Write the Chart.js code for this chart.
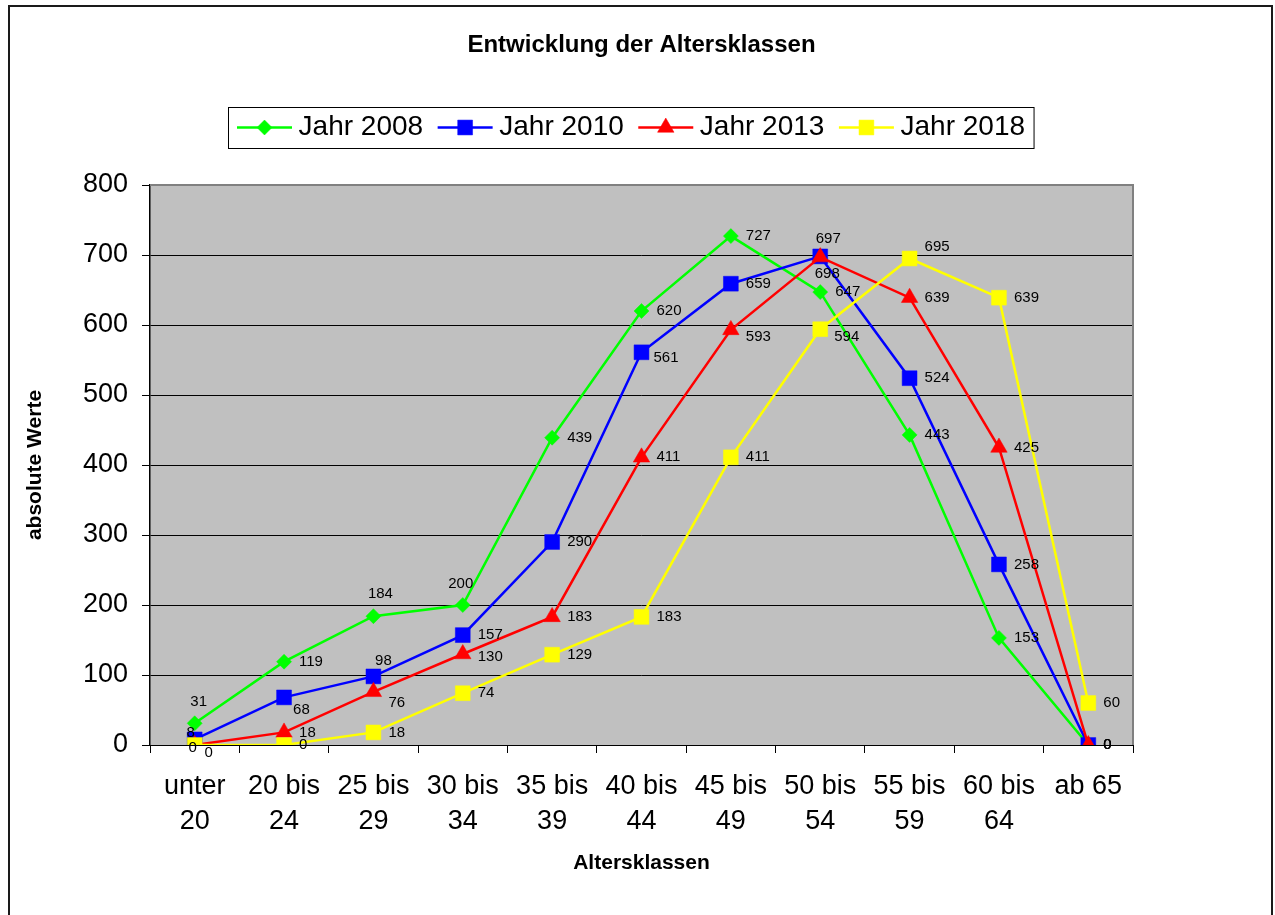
<!DOCTYPE html>
<html>
<head>
<meta charset="utf-8">
<script src="https://cdn.jsdelivr.net/npm/chart.js@4.4.1/dist/chart.umd.min.js"></script>
<style>
html,body{margin:0;padding:0;background:#fff;}
#wrap{width:1275px;height:915px;position:relative;}
</style>
</head>
<body>
<div id="wrap"><canvas id="c" width="1275" height="915"></canvas></div>
<script>
// ---- data ----
const categories = [["unter","20"],["20 bis","24"],["25 bis","29"],["30 bis","34"],["35 bis","39"],["40 bis","44"],["45 bis","49"],["50 bis","54"],["55 bis","59"],["60 bis","64"],"ab 65"];
const seriesNames = ["Jahr 2008","Jahr 2010","Jahr 2013","Jahr 2018"];
const jahr2008 = [31,119,184,200,439,620,727,647,443,153,0];
const jahr2010 = [8,68,98,157,290,561,659,698,524,258,0];
const jahr2013 = [0,18,76,130,183,411,593,697,639,425,0];
const jahr2018 = [0,0,18,74,129,183,411,594,695,639,60];
const yTicks = [0,100,200,300,400,500,600,700,800];
const chartTitle = "Entwicklung der Altersklassen";
const xTitle = "Altersklassen";
const yTitle = "absolute Werte";

// ---- styles ----
const FONT = "'Liberation Sans', Arial, sans-serif";
const seriesStyles = [
  {color:'#00FF00', point:'rectRot', radius:7.5},
  {color:'#0000FF', point:'rect', radius:10.5},
  {color:'#FF0000', point:'triangle', radius:9.5},
  {color:'#FFFF00', point:'rect', radius:10.5}
];
// label placement: default = right of point; ['c',dx,dy] centered offset, ['r',dx,dy] right with shift
const labelPlacement = [
  {0:['c',4,-21], 2:['c',7,-22], 3:['c',-2,-21]},
  {0:['c',-4,-7], 1:['r',-6,12], 2:['c',10,-16], 5:['r',-3,6], 7:['c',7,17]},
  {0:['c',14,8], 2:['r',0,11], 3:['r',0,3], 6:['r',0,7], 7:['c',8,-18]},
  {0:['c',-2,3], 7:['r',-1,8], 8:['r',0,-12]}
];

const allSeries = [jahr2008, jahr2010, jahr2013, jahr2018];
const datasets = allSeries.map((d,i)=>({
  label: seriesNames[i],
  data: d,
  borderColor: seriesStyles[i].color,
  backgroundColor: seriesStyles[i].color,
  pointBackgroundColor: seriesStyles[i].color,
  pointBorderColor: seriesStyles[i].color,
  pointBorderWidth: 0.5,
  pointStyle: seriesStyles[i].point,
  pointRadius: seriesStyles[i].radius,
  borderWidth: 2.5,
  tension: 0,
  order: allSeries.length - i
}));

Chart.defaults.color = '#000';
Chart.defaults.font.family = FONT;

const bgPlugin = {
  id:'bg',
  beforeDraw(chart){
    const {ctx, chartArea:a} = chart;
    ctx.save();
    ctx.fillStyle='#fff';
    ctx.fillRect(0,0,chart.width,chart.height);
    ctx.fillStyle='#C0C0C0';
    ctx.fillRect(a.left,a.top,a.right-a.left,a.bottom-a.top);
    ctx.restore();
  },
  beforeDatasetsDraw(chart){
    const {ctx, chartArea:a} = chart;
    ctx.save();
    ctx.strokeStyle='#808080';
    ctx.lineWidth=2;
    ctx.beginPath();
    ctx.moveTo(a.left, a.top);
    ctx.lineTo(a.right, a.top);
    ctx.lineTo(a.right, a.bottom);
    ctx.stroke();
    ctx.restore();
  }
};

const labelPlugin = {
  id:'labels',
  afterDatasetsDraw(chart){
    const ctx = chart.ctx;
    ctx.save();
    ctx.font = '15px ' + FONT;
    ctx.fillStyle = '#000';
    ctx.textBaseline = 'middle';
    chart.data.datasets.forEach((ds, di)=>{
      const meta = chart.getDatasetMeta(di);
      meta.data.forEach((pt, j)=>{
        const txt = String(ds.data[j]);
        const p = labelPlacement[di][j] || ['r',0,0];
        if (p[0]==='c'){
          ctx.textAlign='center';
          ctx.fillText(txt, pt.x + p[1], pt.y + p[2]);
        } else {
          ctx.textAlign='left';
          ctx.fillText(txt, pt.x + 15 + p[1], pt.y + p[2]);
        }
      });
    });
    ctx.restore();
  }
};

const legendPlugin = {
  id:'customLegend',
  afterDraw(chart){
    const ctx = chart.ctx;
    ctx.save();
    // title, centered over the chart area
    const a = chart.chartArea;
    ctx.font = 'bold 24px ' + FONT;
    ctx.fillStyle = '#000';
    ctx.textAlign = 'center';
    ctx.textBaseline = 'middle';
    ctx.fillText(chartTitle, (a.left + a.right) / 2, 45.5);

    ctx.font = '28px ' + FONT;
    const cy = 127.5;
    let x = 237;
    const lineLen = 55, textGap = 6.6, itemGap = 14.5;
    chart.data.datasets.forEach((ds, i)=>{
      const st = seriesStyles[i];
      ctx.strokeStyle = st.color;
      ctx.lineWidth = 2.5;
      ctx.beginPath();
      ctx.moveTo(x, cy); ctx.lineTo(x+lineLen, cy); ctx.stroke();
      ctx.fillStyle = st.color;
      ctx.strokeStyle = st.color;
      ctx.lineWidth = 0.5;
      Chart.helpers.drawPoint(ctx, {pointStyle: st.point, radius: st.radius, borderWidth:0.5, rotation:0}, x+lineLen/2, cy);
      ctx.fillStyle = '#000';
      ctx.textAlign = 'left';
      ctx.textBaseline = 'middle';
      const tx = x + lineLen + textGap;
      ctx.fillText(ds.label, tx, cy);
      const w = ctx.measureText(ds.label).width;
      x = tx + w + itemGap;
    });
    const right = x - itemGap + 9;
    ctx.strokeStyle = '#000';
    ctx.lineWidth = 1;
    ctx.strokeRect(228.5, 107.5, right - 228.5, 41);
    // outer chart border
    ctx.strokeStyle = '#1a1a1a';
    ctx.lineWidth = 2;
    ctx.strokeRect(9, 6, 1263, 930);
    ctx.restore();
  }
};

new Chart(document.getElementById('c'), {
  type:'line',
  data:{ labels: categories, datasets },
  options:{
    responsive:false,
    animation:false,
    events:[],
    layout:{padding:{left:0,right:142,top:185,bottom:0}},
    plugins:{
      legend:{display:false},
      tooltip:{enabled:false},
      title:{display:false}
    },
    scales:{
      x:{
        offset:true,
        grid:{display:true, drawOnChartArea:false, offset:true, tickLength:8, color:'#000', lineWidth:1},
        border:{display:true, color:'#000', width:1},
        ticks:{font:{family:FONT,size:27,lineHeight:1.3}, padding:15.5, color:'#000', maxRotation:0, autoSkip:false},
        title:{display:true, text:xTitle, color:'#000', font:{family:FONT,size:21,weight:'bold',lineHeight:1.2}, padding:{top:0,bottom:39.4}},
        afterFit(scale){ scale.height = 170; }
      },
      y:{
        min:0, max:800,
        afterBuildTicks(scale){ scale.ticks = yTicks.map(v=>({value:v})); },
        grid:{display:true, color:'#000', lineWidth:1, tickLength:8},
        border:{display:true, color:'#000', width:1.5},
        ticks:{font:{family:FONT,size:27}, padding:14, color:'#000'},
        title:{display:true, text:yTitle, color:'#000', font:{family:FONT,size:21,weight:'bold',lineHeight:1.2}, padding:{top:23,bottom:0}},
        afterFit(scale){ scale.width = 150; }
      }
    }
  },
  plugins:[bgPlugin, labelPlugin, legendPlugin]
});
</script>
</body>
</html>
